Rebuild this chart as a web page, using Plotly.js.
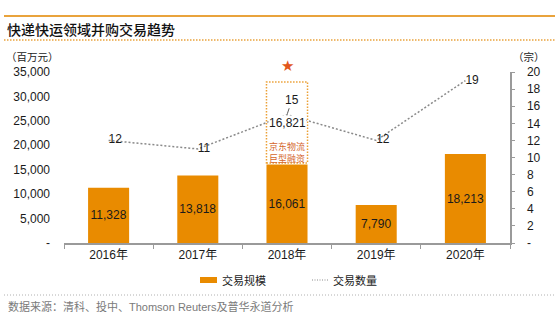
<!DOCTYPE html>
<html>
<head>
<meta charset="utf-8">
<script src="https://cdn.plot.ly/plotly-3.0.1.min.js"></script>
<style>html,body{margin:0;padding:0;background:#fff;}#chart{width:555px;height:326px;}</style>
</head>
<body>
<div id="chart"></div>
<script>
// ---- data ----
const years = ['2016年', '2017年', '2018年', '2019年', '2020年'];
const dealValue = [11328, 13818, 16061, 7790, 18213];   // 交易规模 (百万元)
const dealCount = [12, 11, 15, 12, 19];                 // 交易数量 (宗)
const leftTickVals = [0, 5000, 10000, 15000, 20000, 25000, 30000, 35000];
const leftTickText = ['-', '5,000', '10,000', '15,000', '20,000', '25,000', '30,000', '35,000'];
const rightTickVals = [0, 2, 4, 6, 8, 10, 12, 14, 16, 18, 20];
const rightTickText = ['-', '2', '4', '6', '8', '10', '12', '14', '16', '18', '20'];
const jdDealValue = '16,821';
const jdNote = ['京东物流', '巨型融资'];
const titleText = '快递快运领域并购交易趋势';
const sourceText = '数据来源：清科、投中、Thomson Reuters及普华永道分析';

// ---- layout helpers (pixel -> paper) ----
const L = 64, R = 45, T = 72, B = 83, W = 555, H = 326;
const pw = W - L - R, ph = H - T - B;
const px = p => (p - L) / pw;
const py = p => (H - B - p) / ph;

const FONT = 'Liberation Sans, Arial, Noto Sans CJK SC, sans-serif';
const CJK = 'Noto Sans CJK SC, sans-serif';
const BAR = '#E98B00';
const LINEC = '#8a8a8a';

const bars = {
  type: 'bar', x: years, y: dealValue, name: '交易规模',
  marker: {color: BAR},
  texttemplate: '%{y:,}', textposition: 'inside', insidetextanchor: 'middle',
  textangle: 0, constraintext: 'none',
  textfont: {family: FONT, size: 12, color: '#1a1a1a'},
  hoverinfo: 'skip', cliponaxis: false
};
const line = {
  type: 'scatter', mode: 'lines+text', x: years, y: dealCount, yaxis: 'y2', name: '交易数量',
  line: {color: LINEC, width: 1.5, dash: '2px,2px'},
  text: dealCount.map((v, i) => i === 2 ? '' : String(v)),
  textposition: 'middle right',
  textfont: {family: FONT, size: 12, color: '#1a1a1a'},
  cliponaxis: false, hoverinfo: 'skip'
};

const shapes = [
  {type: 'line', xref: 'paper', yref: 'paper', x0: px(4), x1: px(555), y0: py(16), y1: py(16), line: {color: '#E9A33C', width: 2}},
  {type: 'line', xref: 'paper', yref: 'paper', x0: px(4), x1: px(555), y0: py(40), y1: py(40), line: {color: '#E9A33C', width: 1.5, dash: '1.5px,1.5px'}},
  {type: 'line', xref: 'paper', yref: 'paper', x0: px(4), x1: px(555), y0: py(295), y1: py(295), line: {color: '#b0b0b0', width: 1, dash: '1px,2px'}},
  {type: 'rect', xref: 'x', yref: 'paper', x0: 1.77, x1: 2.23, y0: py(163), y1: py(82), line: {color: '#EBA035', width: 1.5, dash: '1.5px,1.5px'}},
  // legend
  {type: 'rect', xref: 'paper', yref: 'paper', x0: px(200), x1: px(217), y0: py(283), y1: py(277), fillcolor: BAR, line: {width: 0}},
  {type: 'line', xref: 'paper', yref: 'paper', x0: px(312), x1: px(328), y0: py(280), y1: py(280), line: {color: LINEC, width: 1, dash: '1px,1.5px'}}
];

const ann = (x, y, text, opts) => Object.assign({xref: 'paper', yref: 'paper', x: px(x), y: py(y), text: text, showarrow: false, xanchor: 'left', yanchor: 'middle', font: {family: FONT, size: 12, color: '#1a1a1a'}}, opts || {});

const annotations = [
  ann(5, 29, titleText, {font: {family: CJK, size: 14, color: '#111', weight: 500}}),
  ann(4, 56, '（百万元）', {font: {family: CJK, size: 10.5, color: '#222'}}),
  ann(511, 56, '（宗）', {font: {family: CJK, size: 10.5, color: '#222'}}),
  ann(6, 306, sourceText, {font: {family: FONT, size: 11, color: '#7a7a7a'}}),
  ann(220, 280, '交易规模', {font: {family: CJK, size: 11, color: '#222'}}),
  ann(331, 280, '交易数量', {font: {family: CJK, size: 11, color: '#222'}}),
  ann(287, 65.5, '★', {xanchor: 'center', font: {family: 'DejaVu Sans', size: 15, color: '#E2571C'}}),
  {xref: 'x', yref: 'y2', x: years[2], y: dealCount[2], text: jdDealValue, showarrow: false, yshift: -8, bgcolor: '#fff', borderpad: 0, font: {family: FONT, size: 12, color: '#1a1a1a'}},
  {xref: 'x', yref: 'y2', x: years[2], y: dealCount[2], text: String(dealCount[2]), showarrow: true, arrowhead: 0, arrowwidth: 0.8, arrowcolor: '#333', standoff: 1, ax: 5, ay: -15, font: {family: FONT, size: 12, color: '#1a1a1a'}},
  ann(287, 146, jdNote[0], {xanchor: 'center', borderpad: 0, font: {family: CJK, size: 9, color: '#D4652B'}}),
  ann(287, 158, jdNote[1], {xanchor: 'center', borderpad: 0, font: {family: CJK, size: 9, color: '#D4652B'}})
];

const layout = {
  width: W, height: H,
  margin: {l: L, r: R, t: T, b: B, pad: 0},
  paper_bgcolor: '#fff', plot_bgcolor: '#fff',
  showlegend: false,
  bargap: 0.54,
  font: {family: FONT, size: 12, color: '#1a1a1a'},
  xaxis: {
    type: 'category', showgrid: false, zeroline: false,
    showline: true, linecolor: '#9a9a9a', linewidth: 1.5,
    ticks: 'outside', tickson: 'boundaries', ticklen: 4, tickcolor: '#9a9a9a', tickwidth: 1,
    tickfont: {family: FONT, size: 12, color: '#1a1a1a'}
  },
  yaxis: {
    range: [0, 35000], showgrid: false, zeroline: false, showline: false,
    tickvals: leftTickVals, ticktext: leftTickText, ticks: '', ticklabelstandoff: 13,
    tickfont: {family: FONT, size: 12, color: '#1a1a1a'}
  },
  yaxis2: {
    range: [0, 20], overlaying: 'y', side: 'right', anchor: 'x',
    showgrid: false, zeroline: false, showline: true, linecolor: '#9a9a9a', linewidth: 1.5,
    tickvals: rightTickVals, ticktext: rightTickText,
    ticks: 'outside', ticklen: 3, tickcolor: '#9a9a9a', ticklabelstandoff: 10,
    tickfont: {family: FONT, size: 12, color: '#1a1a1a'}
  },
  shapes: shapes,
  annotations: annotations
};

Plotly.newPlot('chart', [bars, line], layout, {staticPlot: true, displayModeBar: false});
</script>
</body>
</html>
